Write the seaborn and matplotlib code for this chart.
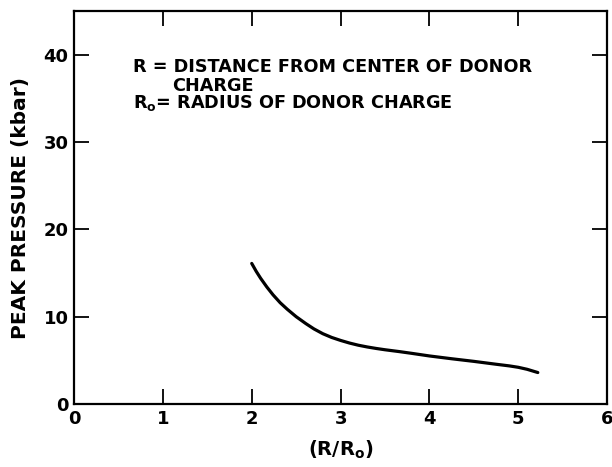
import matplotlib
matplotlib.use("Agg")
import matplotlib.pyplot as plt
import seaborn as sns
import pandas as pd

# Peak pressure versus normalized distance from the donor charge
r_ratio = [2.0, 2.05, 2.1, 2.17, 2.24, 2.32, 2.4, 2.5, 2.61, 2.7, 2.8, 2.9, 3.0,
           3.1, 3.2, 3.3, 3.4, 3.5, 3.66, 3.8, 4.0, 4.25, 4.5, 4.75, 4.9, 5.0, 5.1, 5.22]
peak_kbar = [16.1, 15.2, 14.4, 13.4, 12.5, 11.6, 10.85, 10.0, 9.2, 8.6, 8.05, 7.62, 7.28,
             6.98, 6.73, 6.53, 6.36, 6.21, 6.0, 5.8, 5.5, 5.18, 4.88, 4.55, 4.36, 4.2, 3.97, 3.6]

x_ticks = [0, 1, 2, 3, 4, 5, 6]
y_ticks = [0, 10, 20, 30, 40]

sns.set_style("ticks")
plt.rcParams["font.family"] = ["DejaVu Sans"]
plt.rcParams["font.weight"] = "bold"
plt.rcParams["text.color"] = "black"

fig = plt.figure(figsize=(6.12, 4.67), dpi=100)
ax = fig.add_axes([0.121, 0.135, 0.871, 0.841])

df = pd.DataFrame({"r": r_ratio, "p": peak_kbar})
sns.lineplot(data=df, x="r", y="p", ax=ax, color="black", linewidth=2.3,
             estimator=None, sort=True)

ax.set_xlim(0, 6)
ax.set_ylim(0, 45)
ax.set_xticks(x_ticks)
ax.set_yticks(y_ticks)
ax.set_xticklabels([str(t) for t in x_ticks], fontsize=13, fontweight="bold")
ax.set_yticklabels([str(t) for t in y_ticks], fontsize=13, fontweight="bold")
ax.tick_params(direction="in", length=11, width=1.3, top=True, right=True,
               labeltop=False, labelright=False, pad=4, colors="black",
               labelcolor="black")
for s in ax.spines.values():
    s.set_visible(True)
    s.set_linewidth(1.6)
    s.set_color("black")

ax.set_xlabel(r"(R/R$_\mathbf{o}$)", fontsize=14, fontweight="bold",
              labelpad=8, color="black")
ax.set_ylabel("PEAK PRESSURE (kbar)", fontsize=14.5, fontweight="bold",
              labelpad=10, color="black")

note_kw = dict(fontsize=12.7, fontweight="bold", va="baseline", color="black")
ax.text(0.663, 38.0, "R = DISTANCE FROM CENTER OF DONOR", **note_kw)
ax.text(1.10, 35.9, "CHARGE", **note_kw)
ax.text(0.663, 33.9, r"R$_\mathbf{o}$= RADIUS OF DONOR CHARGE", **note_kw)

fig.savefig("out.png", dpi=100, facecolor="white")
